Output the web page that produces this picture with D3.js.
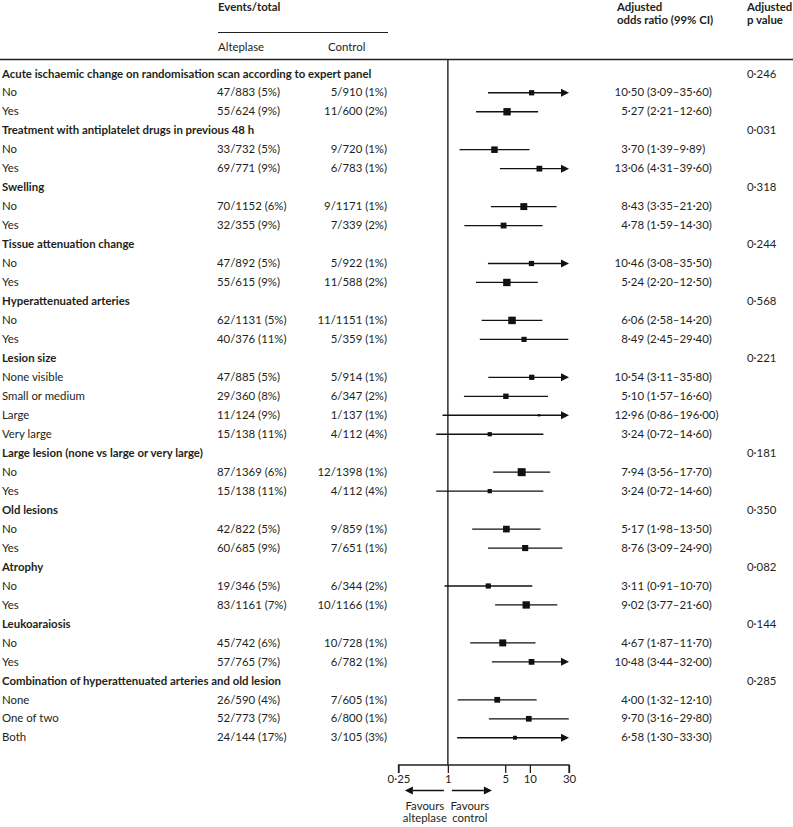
<!DOCTYPE html>
<html><head><meta charset="utf-8">
<script src="https://cdn.jsdelivr.net/npm/d3@7/dist/d3.min.js"></script>
<style>
html,body{margin:0;padding:0;background:#fff;}
svg text{font-family:Lato,"Open Sans",sans-serif;fill:#231f20;}
</style></head>
<body><svg id="chart" width="793" height="827"></svg>
<script>
// ---- data ----
const groupNames = [
  "Acute ischaemic change on randomisation scan according to expert panel",
  "Treatment with antiplatelet drugs in previous 48 h",
  "Swelling",
  "Tissue attenuation change",
  "Hyperattenuated arteries",
  "Lesion size",
  "Large lesion (none vs large or very large)",
  "Old lesions",
  "Atrophy",
  "Leukoaraiosis",
  "Combination of hyperattenuated arteries and old lesion"
];
const pValues = [0.246, 0.031, 0.318, 0.244, 0.568, 0.221, 0.181, 0.350, 0.082, 0.144, 0.285];
const groupSizes = [2, 2, 2, 2, 2, 4, 2, 2, 2, 2, 3];
const subLabels = ["No","Yes","No","Yes","No","Yes","No","Yes","No","Yes",
  "None visible","Small or medium","Large","Very large","No","Yes","No","Yes","No","Yes","No","Yes",
  "None","One of two","Both"];
const altEvents = [47,55,33,69,70,32,47,55,62,40,47,29,11,15,87,15,42,60,19,83,45,57,26,52,24];
const altTotals = [883,624,732,771,1152,355,892,615,1131,376,885,360,124,138,1369,138,822,685,346,1161,742,765,590,773,144];
const altPct    = [5,9,5,9,6,9,5,9,5,11,5,8,9,11,6,11,5,9,5,7,6,7,4,7,17];
const ctlEvents = [5,11,9,6,9,7,5,11,11,5,5,6,1,4,12,4,9,7,6,10,10,6,7,6,3];
const ctlTotals = [910,600,720,783,1171,339,922,588,1151,359,914,347,137,112,1398,112,859,651,344,1166,728,782,605,800,105];
const ctlPct    = [1,2,1,1,1,2,1,2,1,1,1,2,1,4,1,4,1,1,2,1,1,1,1,1,3];
const oddsRatio = [10.50,5.27,3.70,13.06,8.43,4.78,10.46,5.24,6.06,8.49,10.54,5.10,12.96,3.24,7.94,3.24,5.17,8.76,3.11,9.02,4.67,10.48,4.00,9.70,6.58];
const ciLow     = [3.09,2.21,1.39,4.31,3.35,1.59,3.08,2.20,2.58,2.45,3.11,1.57,0.86,0.72,3.56,0.72,1.98,3.09,0.91,3.77,1.87,3.44,1.32,3.16,1.30];
const ciHigh    = [35.60,12.60,9.89,39.60,21.20,14.30,35.50,12.50,14.20,29.40,35.80,16.60,196.00,14.60,17.70,14.60,13.50,24.90,10.70,21.60,11.70,32.00,12.10,29.80,33.30];
const axisTicks = [0.25, 1, 5, 10, 30];

// ---- layout ----
const svg = d3.select("#chart");
const FS = 11.4;
const rowY0 = 77.5, rowH = 18.97;
const x = d3.scaleLog().domain([0.25, 30]).range([398.5, 569]);
const fmt2 = v => d3.format(".2f")(v).replace(".", "\u00B7");
const fmt3 = v => d3.format(".3f")(v).replace(".", "\u00B7");

// build rows
const rows = [];
let k = 0;
groupNames.forEach((g, gi) => {
  rows.push({type: "head", label: g, p: pValues[gi]});
  for (let j = 0; j < groupSizes[gi]; j++, k++) {
    rows.push({type: "sub", label: subLabels[k],
      alt: `${altEvents[k]}/${altTotals[k]} (${altPct[k]}%)`,
      ctl: `${ctlEvents[k]}/${ctlTotals[k]} (${ctlPct[k]}%)`,
      or: oddsRatio[k], lo: ciLow[k], hi: ciHigh[k]});
  }
});
rows.forEach((r, i) => r.y = rowY0 + rowH * i);

// header
const txt = (s, xx, yy, opts = {}) => svg.append("text").attr("x", xx).attr("y", yy)
  .attr("font-size", FS).attr("font-weight", opts.bold ? 700 : 400)
  .attr("text-anchor", opts.anchor || "start").text(s);
txt("Events/total", 218, 10.5, {bold: true});
svg.append("line").attr("x1", 218).attr("x2", 388).attr("y1", 32.5).attr("y2", 32.5).attr("stroke", "#231f20").attr("stroke-width", 1);
txt("Alteplase", 218, 51);
txt("Control", 328, 51);
txt("Adjusted", 617, 10.5, {bold: true});
txt("odds ratio (99% CI)", 617, 23.5, {bold: true});
txt("Adjusted", 747, 10.5, {bold: true});
txt("p value", 747, 23.5, {bold: true});
svg.append("line").attr("x1", 0).attr("x2", 793).attr("y1", 59.5).attr("y2", 59.5).attr("stroke", "#231f20").attr("stroke-width", 1.5);

// reference line at OR = 1
const axisY = 765;
svg.append("line").attr("x1", x(1)).attr("x2", x(1)).attr("y1", 59.5).attr("y2", axisY)
  .attr("stroke", "#3a3a3a").attr("stroke-width", 1.6);

// rows text
rows.forEach(r => {
  if (r.type === "head") {
    txt(r.label, 2, r.y, {bold: true});
    txt(fmt3(r.p), 747, r.y);
  } else {
    txt(r.label, 2, r.y);
    txt(r.alt, 217, r.y);
    txt(r.ctl, 387, r.y, {anchor: "end"});
    txt(fmt2(r.or), 644, r.y, {anchor: "end"});
    txt(`(${fmt2(r.lo)}\u2013${fmt2(r.hi)})`, 647, r.y);
  }
});

// CI lines and squares
const subs = rows.filter(r => r.type === "sub");
const [dMin, dMax] = x.domain();
const head = 8, hh = 4;
const g = svg.append("g");
subs.forEach(r => {
  const cy = r.y - 3.7;
  const xl = r.lo < dMin ? x(dMin) + head : x(r.lo);
  const xr = r.hi > dMax ? x(dMax) - head + 1 : x(r.hi);
  g.append("line").attr("x1", xl).attr("x2", xr).attr("y1", cy).attr("y2", cy)
    .attr("stroke", "#111").attr("stroke-width", 1.3);
  if (r.hi > dMax) {
    const t = x(dMax);
    g.append("path").attr("d", `M${t},${cy}L${t - head},${cy - hh}L${t - head},${cy + hh}Z`).attr("fill", "#111");
  }
  if (r.lo < dMin) {
    const t = x(dMin);
    g.append("path").attr("d", `M${t},${cy}L${t + head},${cy - hh}L${t + head},${cy + hh}Z`).attr("fill", "#111");
  }
  const side = 12.8 / Math.log(r.hi / r.lo);
  g.append("rect").attr("x", x(r.or) - side / 2).attr("y", cy - side / 2)
    .attr("width", side).attr("height", side).attr("fill", "#111");
});

// axis
const axis = d3.axisBottom(x).tickValues(axisTicks).tickSize(8).tickFormat(d => d === 0.25 ? "0\u00B725" : d3.format("d")(d));
const ag = svg.append("g").attr("transform", `translate(0,${axisY})`).call(axis);
ag.select(".domain").attr("stroke", "#231f20").attr("stroke-width", 1.3).attr("d", `M${x(dMin)},8V0H${x(dMax)}V8`);
ag.selectAll(".tick line").attr("stroke", "#231f20").attr("stroke-width", 1.3);
ag.selectAll(".tick text").attr("font-size", FS).attr("font-family", "Lato").attr("fill", "#231f20").attr("dy", null).attr("y", 18);

// favours arrows
const ay = 790.5, x1 = x(1);
const arrow = (from, to) => {
  const dir = Math.sign(to - from);
  svg.append("line").attr("x1", from).attr("x2", to - dir * head).attr("y1", ay).attr("y2", ay).attr("stroke", "#111").attr("stroke-width", 1.5);
  svg.append("path").attr("d", `M${to},${ay}L${to - dir * head},${ay - hh}L${to - dir * head},${ay + hh}Z`).attr("fill", "#111");
};
arrow(x1 - 4, x1 - 43);
arrow(x1 + 4, x1 + 44);
txt("Favours", x1 - 23, 810, {anchor: "middle"});
txt("alteplase", x1 - 23, 822, {anchor: "middle"});
txt("Favours", x1 + 22, 810, {anchor: "middle"});
txt("control", x1 + 22, 822, {anchor: "middle"});
</script></body></html>
